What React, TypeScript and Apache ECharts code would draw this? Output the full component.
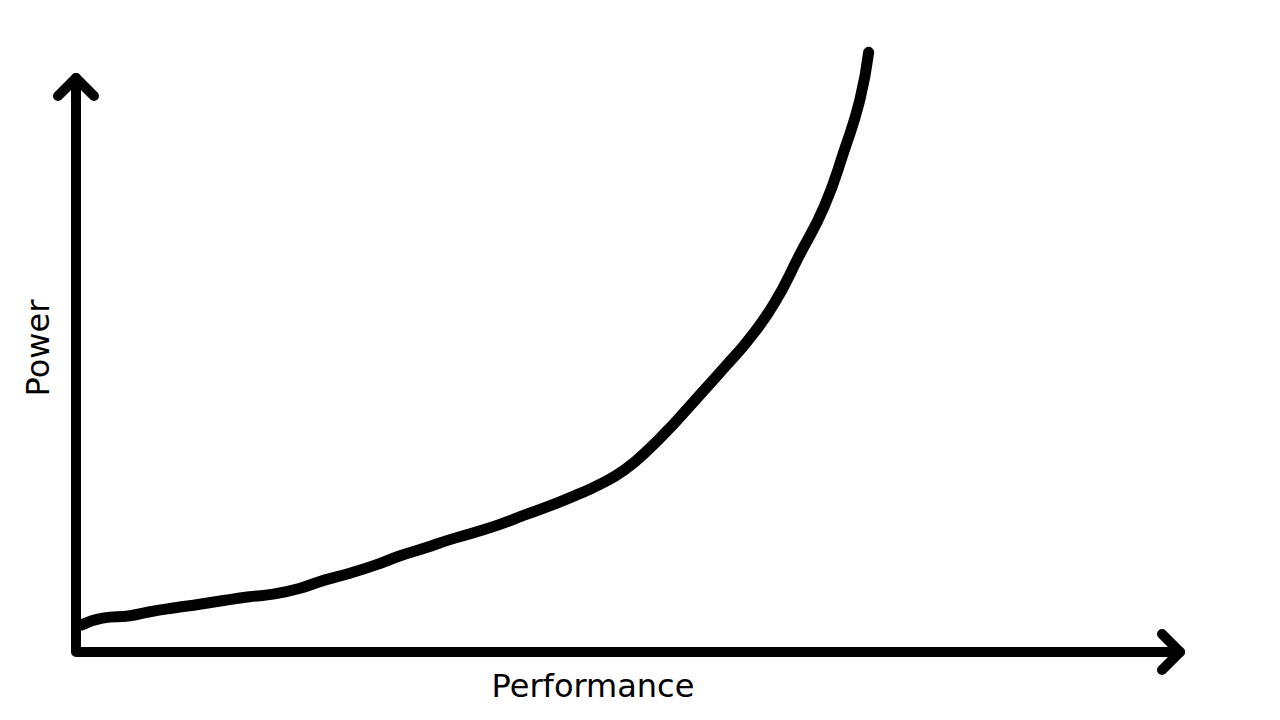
import React, { useEffect, useRef } from "react";
import * as echarts from "echarts";

const xTitle = "Performance";
const yTitle = "Power";

const performance = [0.5, 2.4, 4.9, 6.7, 9.0, 11.2, 13.5, 15.7, 18.0, 20.3, 22.5, 24.8, 27.1, 29.3, 31.6, 33.8, 36.1, 38.4, 40.6, 42.9, 45.2, 47.4, 49.7, 51.9, 54.2, 56.5, 58.7, 61.0, 63.3, 65.5, 67.8, 69.6, 71.0, 71.8];
const power = [4.7, 5.9, 6.3, 7.0, 7.7, 8.3, 9.0, 9.6, 10.1, 11.1, 12.5, 13.7, 15.1, 16.7, 18.1, 19.5, 20.8, 22.2, 23.8, 25.4, 27.2, 29.1, 31.7, 35.3, 39.8, 44.7, 49.4, 54.5, 60.8, 68.9, 77.6, 87.3, 96.0, 104.3];

export default function App() {
  const ref = useRef<HTMLDivElement>(null);
  useEffect(() => {
    if (!ref.current) return;
    const chart = echarts.init(ref.current, undefined, { renderer: "svg" });
    const axisStyle = { stroke: "#000", lineWidth: 10, lineCap: "round", lineJoin: "round", fill: null };
    chart.setOption({
      animation: false,
      backgroundColor: "#fff",
      grid: { left: 76, right: 100, top: 77, bottom: 68 },
      xAxis: { type: "value", min: 0, max: 100, show: false },
      yAxis: { type: "value", min: 0, max: 100, show: false },
      series: [
        {
          type: "line",
          data: performance.map((p, i) => [p, power[i]]),
          showSymbol: false,
          smooth: 0.5,
          clip: false,
          lineStyle: { color: "#000", width: 11, cap: "round", join: "round" },
        },
      ],
      graphic: [
        { type: "polyline", shape: { points: [[76, 78], [76, 652], [1180, 652]] }, style: axisStyle, z: 10 },
        { type: "polyline", shape: { points: [[58, 96], [76, 78], [94, 96]] }, style: axisStyle, z: 10 },
        { type: "polyline", shape: { points: [[1162, 634], [1180, 652], [1162, 670]] }, style: axisStyle, z: 10 },
        {
          type: "text",
          x: 593,
          y: 686,
          style: { text: xTitle, font: "32px 'DejaVu Sans'", fill: "#000", align: "center", verticalAlign: "middle" },
        },
        {
          type: "text",
          x: 38,
          y: 348,
          rotation: Math.PI / 2,
          style: { text: yTitle, font: "32px 'DejaVu Sans'", fill: "#000", align: "center", verticalAlign: "middle" },
        },
      ],
    });
    return () => chart.dispose();
  }, []);
  return <div ref={ref} style={{ position: "fixed", left: 0, top: 0, width: 1280, height: 720 }} />;
}
